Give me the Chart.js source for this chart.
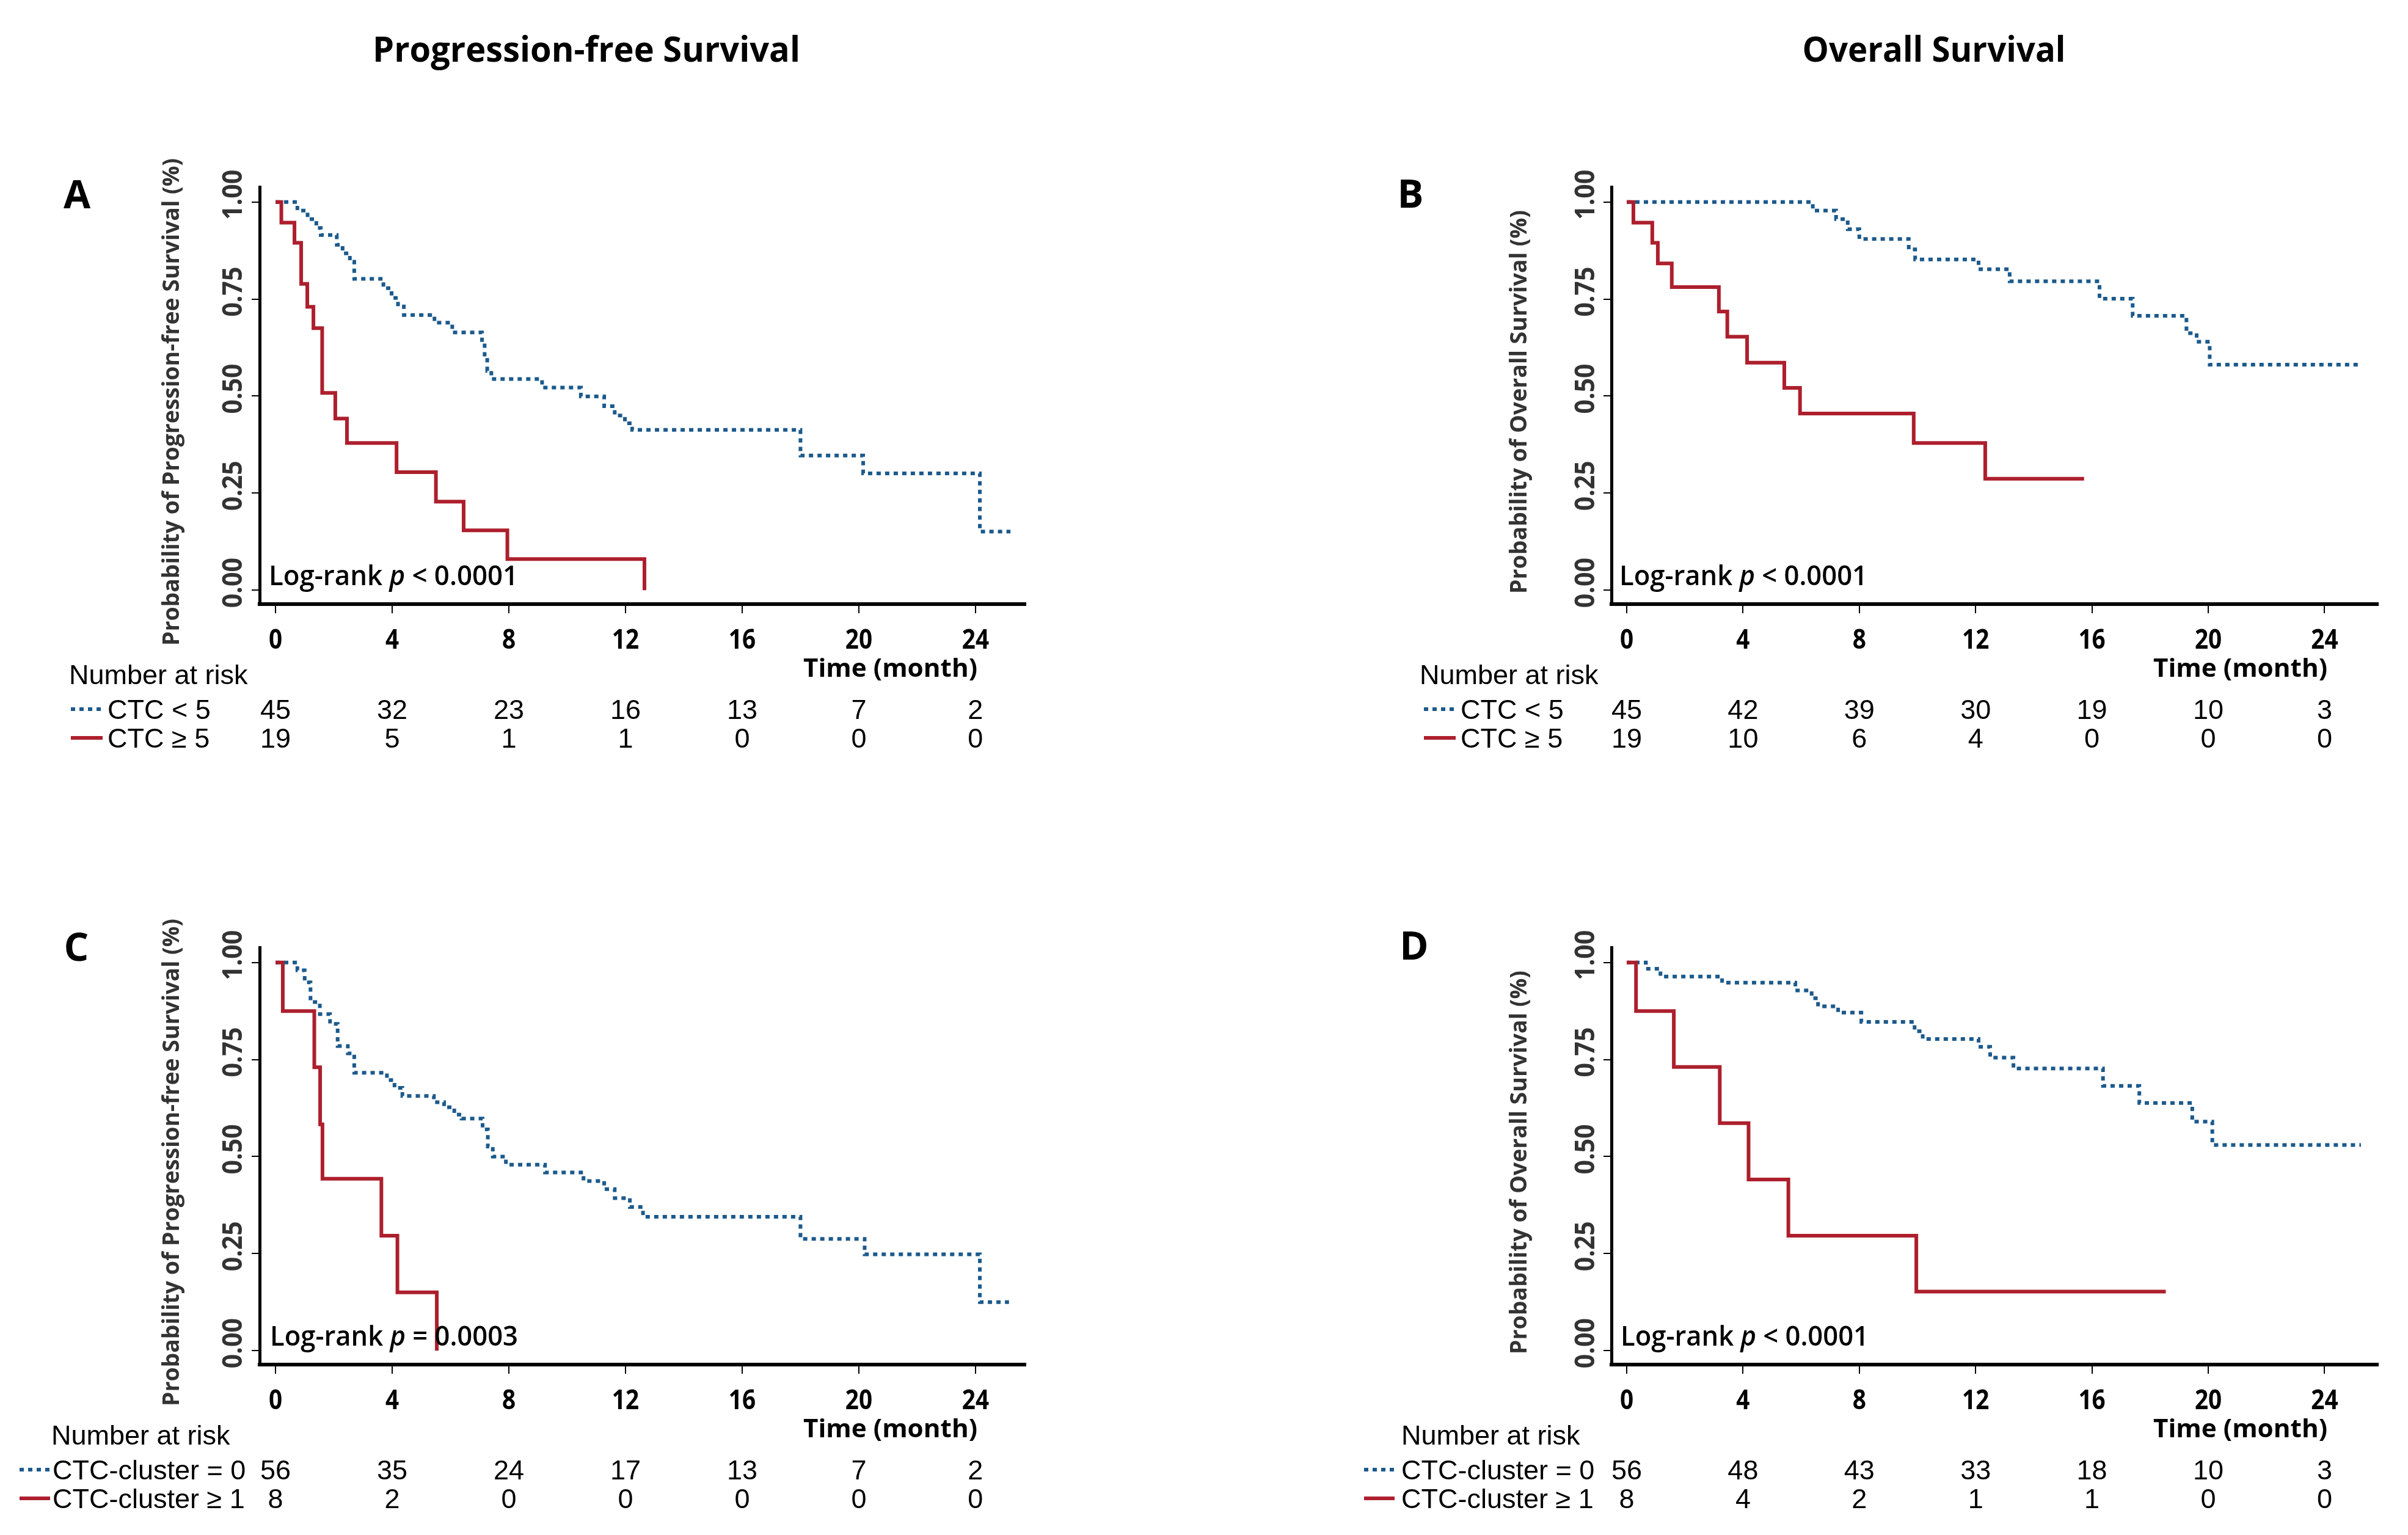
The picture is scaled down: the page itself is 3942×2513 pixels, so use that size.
<!DOCTYPE html>
<html>
<head>
<meta charset="utf-8">
<script src="https://cdn.jsdelivr.net/npm/chart.js@4.4.1/dist/chart.umd.min.js"></script>
<style>
  html, body { margin: 0; padding: 0; background: #fff; }
  #page { position: relative; width: 3942px; height: 2513px; overflow: hidden; }
  .panel { position: absolute; }
</style>
</head>
<body>
<div id="page">
  <canvas id="panelA" class="panel" width="1971" height="1245" style="left:0;top:0"></canvas>
  <canvas id="panelB" class="panel" width="1971" height="1245" style="left:1971px;top:0"></canvas>
  <canvas id="panelC" class="panel" width="1971" height="1268" style="left:0;top:1245px"></canvas>
  <canvas id="panelD" class="panel" width="1971" height="1268" style="left:1971px;top:1245px"></canvas>
</div>
<script>
const RED = `#ad1f2d`;
const BLUE = `#1c5a8c`;

const timeTicks = [0, 4, 8, 12, 16, 20, 24];
const probTicks = [0, 0.25, 0.5, 0.75, 1];

// A: PFS by CTC count
const pfsCtcLowTime = [0, 0.75, 1.1, 1.4, 1.55, 2.1, 2.3, 2.55, 2.7, 3.7, 3.98, 4.2, 4.4, 5.45, 6.06, 7.08, 7.17, 7.26, 7.4, 9.14, 10.47, 11.27, 11.63, 11.98, 12.23, 18.0, 20.15, 24.15, 25.2];
const pfsCtcLowProb = [1, 0.978, 0.956, 0.933, 0.915, 0.89, 0.868, 0.846, 0.802, 0.778, 0.753, 0.731, 0.709, 0.689, 0.664, 0.638, 0.6, 0.565, 0.544, 0.522, 0.499, 0.474, 0.45, 0.43, 0.413, 0.347, 0.301, 0.151, 0.151];
const pfsCtcHighTime = [0, 0.2, 0.65, 0.88, 1.09, 1.3, 1.6, 2.05, 2.45, 4.15, 5.5, 6.45, 7.95, 12.65];
const pfsCtcHighProb = [1, 0.947, 0.895, 0.789, 0.73, 0.675, 0.508, 0.442, 0.379, 0.304, 0.228, 0.154, 0.08, 0];
const pfsCtcLowRisk = [45, 32, 23, 16, 13, 7, 2];
const pfsCtcHighRisk = [19, 5, 1, 1, 0, 0, 0];

// B: OS by CTC count
const osCtcLowTime = [0, 6.4, 7.2, 7.6, 8.0, 9.7, 9.92, 12.1, 13.17, 16.26, 17.4, 19.25, 19.6, 20.05, 25.15];
const osCtcLowProb = [1, 0.978, 0.956, 0.93, 0.905, 0.878, 0.852, 0.827, 0.796, 0.751, 0.707, 0.662, 0.64, 0.581, 0.581];
const osCtcHighTime = [0, 0.23, 0.88, 1.07, 1.55, 3.17, 3.46, 4.14, 5.42, 5.96, 9.87, 12.33, 15.73];
const osCtcHighProb = [1, 0.947, 0.895, 0.842, 0.781, 0.718, 0.653, 0.586, 0.521, 0.455, 0.379, 0.287, 0.287];
const osCtcLowRisk = [45, 42, 39, 30, 19, 10, 3];
const osCtcHighRisk = [19, 10, 6, 4, 0, 0, 0];

// C: PFS by CTC-cluster
const pfsClusterNoneTime = [0, 0.75, 1.0, 1.2, 1.52, 1.87, 2.13, 2.48, 2.7, 3.82, 4.08, 4.35, 5.43, 5.78, 6.13, 6.38, 7.1, 7.28, 7.45, 7.9, 9.24, 10.56, 11.27, 11.63, 12.15, 12.6, 18.0, 20.2, 24.15, 25.15];
const pfsClusterNoneProb = [1, 0.98, 0.949, 0.898, 0.867, 0.842, 0.785, 0.766, 0.716, 0.697, 0.677, 0.656, 0.64, 0.627, 0.608, 0.598, 0.57, 0.526, 0.5, 0.479, 0.459, 0.437, 0.416, 0.393, 0.37, 0.345, 0.288, 0.248, 0.125, 0.125];
const pfsClusterAnyTime = [0, 0.25, 1.33, 1.53, 1.61, 3.63, 4.18, 5.53];
const pfsClusterAnyProb = [1, 0.875, 0.73, 0.583, 0.443, 0.296, 0.15, 0];
const pfsClusterNoneRisk = [56, 35, 24, 17, 13, 7, 2];
const pfsClusterAnyRisk = [8, 2, 0, 0, 0, 0, 0];

// D: OS by CTC-cluster
const osClusterNoneTime = [0, 0.66, 1.16, 3.28, 5.8, 6.36, 6.58, 7.27, 8.07, 9.9, 10.18, 12.1, 12.5, 13.3, 16.38, 17.63, 19.45, 20.14, 25.25];
const osClusterNoneProb = [1, 0.984, 0.964, 0.948, 0.928, 0.908, 0.887, 0.871, 0.847, 0.823, 0.803, 0.783, 0.755, 0.727, 0.682, 0.638, 0.59, 0.53, 0.53];
const osClusterAnyTime = [0, 0.32, 1.62, 3.2, 4.19, 5.56, 9.96, 18.54];
const osClusterAnyProb = [1, 0.875, 0.731, 0.586, 0.441, 0.296, 0.152, 0.152];
const osClusterNoneRisk = [56, 48, 43, 33, 18, 10, 3];
const osClusterAnyRisk = [8, 4, 2, 1, 1, 0, 0];

const drawText = (ctx, text, x, y, o = {}) => {
  ctx.save();
  ctx.font = o.font;
  ctx.fillStyle = o.color || `#000`;
  ctx.textAlign = o.align || `center`;
  ctx.textBaseline = o.baseline || `alphabetic`;
  ctx.translate(x, y);
  if (o.rotate) {
    ctx.rotate(o.rotate);
  }
  let sx = o.sx || 1;
  if (o.width) {
    sx = o.width / ctx.measureText(text).width;
  }
  ctx.scale(sx, 1);
  ctx.fillText(text, 0, 0);
  ctx.restore();
};

const drawPValue = (ctx, parts, x, y, width) => {
  const regular = `600 46px "Open Sans"`;
  const italic = `italic 600 46px "Open Sans"`;
  ctx.save();
  let total = 0;
  parts.forEach((t, i) => {
    ctx.font = i === 1 ? italic : regular;
    total += ctx.measureText(t).width;
  });
  ctx.translate(x, y);
  ctx.scale(width / total, 1);
  ctx.textAlign = `left`;
  ctx.textBaseline = `alphabetic`;
  ctx.fillStyle = `#000`;
  let cx = 0;
  parts.forEach((t, i) => {
    ctx.font = i === 1 ? italic : regular;
    ctx.fillText(t, cx, 0);
    cx += ctx.measureText(t).width;
  });
  ctx.restore();
};

const drawLegendLine = (ctx, x1, x2, y, color, dotted) => {
  ctx.save();
  ctx.strokeStyle = color;
  ctx.lineWidth = 6;
  ctx.setLineDash(dotted ? [7, 7] : []);
  ctx.beginPath();
  ctx.moveTo(x1, y);
  ctx.lineTo(x2, y);
  ctx.stroke();
  ctx.restore();
};

const panelText = {
  id: `panelText`,
  afterDraw(chart, args, opts) {
    const p = opts.panel;
    const ctx = chart.ctx;
    const xScale = chart.scales.x;
    const yScale = chart.scales.y;

    drawText(ctx, p.letter, p.letterX, p.letterY, {font: `bold 64px "Open Sans"`});
    if (p.title) {
      drawText(ctx, p.title, p.titleX, 101, {font: `bold 58px "Open Sans"`, width: p.titleWidth});
    }

    probTicks.forEach((v) => {
      drawText(ctx, v.toFixed(2), p.yTickX, yScale.getPixelForValue(v) - 12,
        {font: `bold 45px "Open Sans"`, width: 82, rotate: -Math.PI / 2, baseline: `middle`, color: `#333`});
    });
    drawText(ctx, p.yTitle, p.yTitleX, 658,
      {font: `bold 37px "Open Sans"`, width: p.yTitleWidth, rotate: -Math.PI / 2, baseline: `middle`, color: `#333`});

    timeTicks.forEach((t) => {
      drawText(ctx, String(t), xScale.getPixelForValue(t), 1062, {font: `bold 45px "Open Sans"`, sx: 0.86});
    });
    drawText(ctx, `Time (month)`, p.timeRight, 1108, {font: `bold 42px "Open Sans"`, width: 285, align: `right`});

    drawPValue(ctx, p.pValue, p.pValueX, 958, p.pValueWidth);

    const riskFont = `45px "Liberation Sans"`;
    drawText(ctx, `Number at risk`, p.riskLabelX, 1120, {font: riskFont, align: `left`});
    p.rows.forEach((row, r) => {
      const base = 1177 + r * 47;
      drawLegendLine(ctx, p.legendX1, p.legendX2, base - 16, row.color, row.dotted);
      drawText(ctx, row.label, p.rowTextX, base, {font: riskFont, align: `left`});
      row.risk.forEach((n, i) => {
        drawText(ctx, String(n), xScale.getPixelForValue(timeTicks[i]), base, {font: riskFont});
      });
    });
  }
};

const toPoints = (times, probs) => times.map((t, i) => ({x: t, y: probs[i]}));

const curve = (times, probs, color, dotted) => ({
  data: toPoints(times, probs),
  borderColor: color,
  borderWidth: 6,
  borderDash: dotted ? [7, 7] : [],
  borderCapStyle: `butt`,
  stepped: `before`,
  pointRadius: 0,
  fill: false
});

const renderPanel = (id, p) => {
  const canvas = document.getElementById(id);
  const lowRow = p.rows[0];
  const highRow = p.rows[1];
  return new Chart(canvas, {
    type: `line`,
    plugins: [panelText],
    data: {
      datasets: [
        curve(highRow.time, highRow.prob, RED, false),
        curve(lowRow.time, lowRow.prob, BLUE, true)
      ]
    },
    options: {
      responsive: false,
      animation: false,
      devicePixelRatio: 1,
      layout: {
        padding: {left: 0, top: 306, right: canvas.width - p.axisRight, bottom: canvas.height - 989 - 20}
      },
      plugins: {
        legend: {display: false},
        tooltip: {enabled: false},
        panelText: {panel: p}
      },
      scales: {
        x: {
          type: `linear`,
          min: p.xMin,
          max: p.xMax,
          afterBuildTicks: (s) => {
            s.ticks = timeTicks.map((v) => ({value: v}));
          },
          afterFit: (s) => {
            s.height = 20;
          },
          ticks: {display: false},
          grid: {drawOnChartArea: false, drawTicks: true, tickLength: 15, color: `#000`, lineWidth: 2},
          border: {display: true, color: `#000`, width: 6}
        },
        y: {
          type: `linear`,
          min: -0.036,
          max: 1.039,
          afterBuildTicks: (s) => {
            s.ticks = probTicks.map((v) => ({value: v}));
          },
          afterFit: (s) => {
            s.width = p.axisLeft;
          },
          ticks: {display: false},
          grid: {drawOnChartArea: false, drawTicks: true, tickLength: 13, color: `#000`, lineWidth: 2},
          border: {display: true, color: `#000`, width: 5}
        }
      }
    }
  });
};

const leftGeometry = {axisLeft: 425, axisRight: 1679, xMin: -0.545, xMax: 25.72, yTickX: 383, yTitleX: 282, timeRight: 1600};
const rightGeometry = {axisLeft: 667, axisRight: 1922, xMin: -0.525, xMax: 25.84, yTickX: 626, yTitleX: 517, timeRight: 1839};

renderPanel(`panelA`, Object.assign({}, leftGeometry, {
  letter: `A`, letterX: 126, letterY: 341,
  title: `Progression-free Survival`, titleX: 960, titleWidth: 700,
  yTitle: `Probability of Progression-free Survival (%)`, yTitleWidth: 798,
  pValue: [`Log-rank `, `p`, ` < 0.0001`], pValueX: 440, pValueWidth: 408,
  riskLabelX: 113, legendX1: 116, legendX2: 168, rowTextX: 176,
  rows: [
    {label: `CTC < 5`, color: BLUE, dotted: true, time: pfsCtcLowTime, prob: pfsCtcLowProb, risk: pfsCtcLowRisk},
    {label: `CTC ≥ 5`, color: RED, dotted: false, time: pfsCtcHighTime, prob: pfsCtcHighProb, risk: pfsCtcHighRisk}
  ]
}));

renderPanel(`panelB`, Object.assign({}, rightGeometry, {
  letter: `B`, letterX: 338, letterY: 340,
  title: `Overall Survival`, titleX: 1195, titleWidth: 431,
  yTitle: `Probability of Overall Survival (%)`, yTitleWidth: 628,
  pValue: [`Log-rank `, `p`, ` < 0.0001`], pValueX: 680, pValueWidth: 406,
  riskLabelX: 353, legendX1: 360, legendX2: 412, rowTextX: 420,
  rows: [
    {label: `CTC < 5`, color: BLUE, dotted: true, time: osCtcLowTime, prob: osCtcLowProb, risk: osCtcLowRisk},
    {label: `CTC ≥ 5`, color: RED, dotted: false, time: osCtcHighTime, prob: osCtcHighProb, risk: osCtcHighRisk}
  ]
}));

renderPanel(`panelC`, Object.assign({}, leftGeometry, {
  letter: `C`, letterX: 125, letterY: 328,
  title: null,
  yTitle: `Probability of Progression-free Survival (%)`, yTitleWidth: 798,
  pValue: [`Log-rank `, `p`, ` = 0.0003`], pValueX: 442, pValueWidth: 406,
  riskLabelX: 84, legendX1: 32, legendX2: 82, rowTextX: 86,
  rows: [
    {label: `CTC-cluster = 0`, color: BLUE, dotted: true, time: pfsClusterNoneTime, prob: pfsClusterNoneProb, risk: pfsClusterNoneRisk},
    {label: `CTC-cluster ≥ 1`, color: RED, dotted: false, time: pfsClusterAnyTime, prob: pfsClusterAnyProb, risk: pfsClusterAnyRisk}
  ]
}));

renderPanel(`panelD`, Object.assign({}, rightGeometry, {
  letter: `D`, letterX: 344, letterY: 326,
  title: null,
  yTitle: `Probability of Overall Survival (%)`, yTitleWidth: 628,
  pValue: [`Log-rank `, `p`, ` < 0.0001`], pValueX: 682, pValueWidth: 406,
  riskLabelX: 323, legendX1: 262, legendX2: 312, rowTextX: 323,
  rows: [
    {label: `CTC-cluster = 0`, color: BLUE, dotted: true, time: osClusterNoneTime, prob: osClusterNoneProb, risk: osClusterNoneRisk},
    {label: `CTC-cluster ≥ 1`, color: RED, dotted: false, time: osClusterAnyTime, prob: osClusterAnyProb, risk: osClusterAnyRisk}
  ]
}));
</script>
</body>
</html>
